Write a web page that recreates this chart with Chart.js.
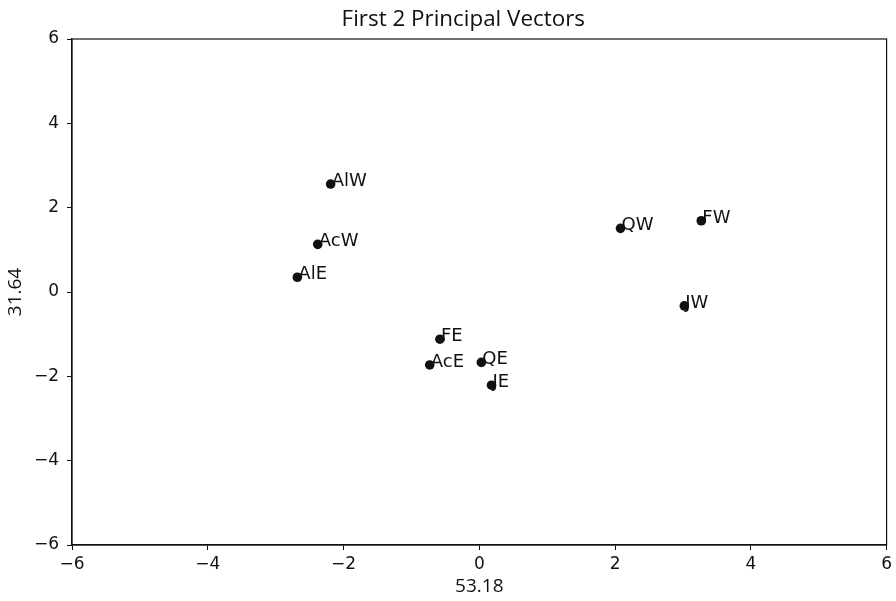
<!DOCTYPE html>
<html>
<head>
<meta charset="utf-8">
<script src="https://cdn.jsdelivr.net/npm/chart.js@4"></script>
<style>
  html, body { margin: 0; padding: 0; background: #fff; }
  #wrap { width: 896px; height: 601px; }
</style>
</head>
<body>
<div id="wrap"><canvas id="pcaChart" width="896" height="601"></canvas></div>
<script>
// sample names and their scores on the first two principal components
const sampleLabels = ['AlW', 'AcW', 'AlE', 'QW', 'FW', 'JW', 'FE', 'AcE', 'QE', 'JE'];
const pc1Values = [-2.19, -2.38, -2.68, 2.08, 3.27, 3.02, -0.58, -0.73, 0.03, 0.18];
const pc2Values = [2.56, 1.13, 0.35, 1.51, 1.69, -0.33, -1.12, -1.73, -1.67, -2.21];
const tickValues = [-6, -4, -2, 0, 2, 4, 6];
const xTitle = '53.18';
const yTitle = '31.64';
const chartTitle = 'First 2 Principal Vectors';

const points = pc1Values.map((x, i) => ({ x: x, y: pc2Values[i] }));
const fmtTick = v => String(v).replace('-', '\u2212');

// frame on all four sides, the title and the text next to each point
const framePlugin = {
    id: 'frameAndLabels',
    afterDatasetsDraw(chart) {
        const ctx = chart.ctx;
        const a = chart.chartArea;
        const xs = chart.scales.x, ys = chart.scales.y;
        ctx.save();
        ctx.strokeStyle = '#111';
        ctx.lineWidth = 1.2;
        ctx.strokeRect(a.left, a.top, a.right - a.left, a.bottom - a.top);
        ctx.fillStyle = '#111';

        // the title sits a little left of the plot centre in the original
        ctx.font = '22.4px "Open Sans"';
        ctx.textAlign = 'center';
        ctx.textBaseline = 'alphabetic';
        ctx.fillText(chartTitle, (a.left + a.right) / 2 - 16, 26);

        ctx.font = '18px "DejaVu Sans"';
        ctx.textAlign = 'left';
        sampleLabels.forEach((name, i) => {
            const px = xs.getPixelForValue(pc1Values[i]);
            const py = ys.getPixelForValue(pc2Values[i]);
            ctx.fillText(name, px + 1, py + 2);
        });
        ctx.restore();
    }
};

new Chart(document.getElementById('pcaChart'), {
    type: 'scatter',
    data: {
        datasets: [{
            label: 'samples',
            data: points,
            backgroundColor: '#111',
            borderWidth: 0,
            pointRadius: 4.8,
            pointHoverRadius: 4.8
        }]
    },
    options: {
        responsive: false,
        animation: false,
        layout: { padding: { left: 0, right: 8, top: 39, bottom: 0 } },
        scales: {
            x: {
                type: 'linear',
                min: -6,
                max: 6,
                afterBuildTicks: s => { s.ticks = tickValues.map(v => ({ value: v })); },
                afterFit: s => { s.height = 56; },
                grid: { drawOnChartArea: false, drawTicks: true, tickLength: 5, color: '#111', lineWidth: 1 },
                border: { display: true, color: '#111', width: 1.2 },
                ticks: {
                    callback: v => fmtTick(v),
                    color: '#111',
                    font: { family: 'DejaVu Sans', size: 17 },
                    padding: 4,
                    maxRotation: 0
                },
                title: {
                    display: true,
                    text: xTitle,
                    color: '#111',
                    font: { family: 'Open Sans', size: 19 },
                    padding: { top: 0, bottom: 3 }
                }
            },
            y: {
                type: 'linear',
                min: -6,
                max: 6,
                afterBuildTicks: s => { s.ticks = tickValues.map(v => ({ value: v })); },
                afterFit: s => { s.width = 72; },
                grid: { drawOnChartArea: false, drawTicks: true, tickLength: 5, color: '#111', lineWidth: 1 },
                border: { display: true, color: '#111', width: 1.2 },
                ticks: {
                    callback: v => fmtTick(v),
                    color: '#111',
                    font: { family: 'DejaVu Sans', size: 17 },
                    padding: 8
                },
                title: {
                    display: true,
                    text: yTitle,
                    color: '#111',
                    font: { family: 'Open Sans', size: 19 },
                    padding: { top: 4, bottom: 0 }
                }
            }
        },
        plugins: {
            legend: { display: false },
            tooltip: { enabled: false },
            title: { display: false }
        }
    },
    plugins: [framePlugin]
});
</script>
</body>
</html>
